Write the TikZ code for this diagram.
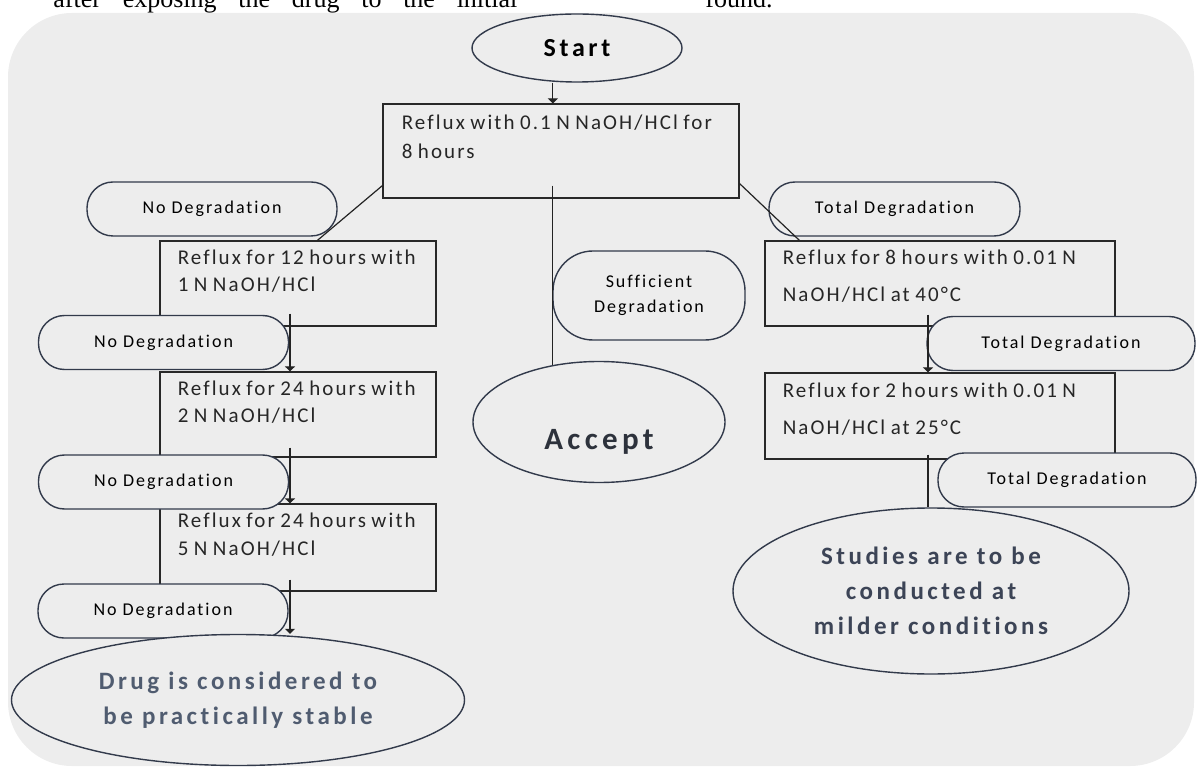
\documentclass[tikz,border=0pt]{standalone}
\usepackage{fontspec}
\setmainfont{Carlito}
\newfontfamily\lblfont[LetterSpace=11,Ligatures=NoCommon]{Carlito}
\newfontfamily\boxfont[LetterSpace=10,WordSpace=0.8,Ligatures=NoCommon]{Carlito}
\newfontfamily\endfont[LetterSpace=14,Ligatures=NoCommon]{Carlito}
\newfontfamily\pagefont{Liberation Serif}
\usetikzlibrary{positioning,arrows.meta,shapes.geometric}

\definecolor{bggray}{RGB}{237,237,237}
\definecolor{boxline}{RGB}{40,40,40}
\definecolor{ovline}{RGB}{50,58,75}
\definecolor{lnblack}{RGB}{35,35,35}
\definecolor{txtgray}{RGB}{38,38,38}
\definecolor{acctxt}{RGB}{45,50,60}
\definecolor{drugtxt}{RGB}{80,92,112}
\definecolor{studtxt}{RGB}{60,68,86}

\begin{document}
\begin{tikzpicture}[x=0.5pt, y=-0.5pt,
  box/.style={draw=boxline, fill=bggray, line width=0.6pt, inner sep=0pt},
  boxtxt/.style={anchor=base west, align=left, inner sep=0pt, text=txtgray,
                 font=\boxfont\fontsize{10.5}{#1}\selectfont},
  boxtxt/.default=14pt,
  tag/.style={draw=ovline, fill=bggray, line width=0.7pt, rounded corners=13pt,
              minimum width=#1, minimum height=27pt, inner sep=0pt,
              font=\lblfont\fontsize{9}{12.5}\selectfont},
  tag/.default=125pt,
  oval/.style={draw=ovline, fill=bggray, ellipse, line width=0.7pt, inner sep=0pt, align=center},
  bigtxt/.style={font=\endfont\bfseries\fontsize{12.5}{17.5}\selectfont},
  pagetxt/.style={anchor=base west, inner sep=0pt, font=\pagefont\fontsize{13}{15}\selectfont},
  ln/.style={draw=lnblack, line width=0.6pt},
  arr/.style={ln, -{Triangle[width=5pt,length=2.5pt]}}]
\useasboundingbox (0,0) rectangle (1197,769);
% grey panel and the cut line of page text above it
\fill[bggray, rounded corners=32pt] (8,13) rectangle (1194,766);
\node[pagetxt] (pageline) at (53,8) {\makebox[232pt][s]{after exposing the drug to the initial}};
\node[pagetxt] (pagefound) at (705,8) {found.};
% reflux steps (text anchored on its last line)
\node[box, minimum width=178pt, minimum height=47pt] (r01) at (561,151) {};
\node[boxtxt=14.5pt] (r01txt) at ([shift={(19,55)}]r01.north west) {Reflux with 0.1 N NaOH/HCl for\\8 hours};
\node[box, minimum width=138pt, minimum height=42.5pt] (r12) at (298,283.5) {};
\node[boxtxt=13.5pt] (r12txt) at ([shift={(18,51)}]r12.north west) {Reflux for 12 hours with\\1 N NaOH/HCl};
\node[box, minimum width=138pt, minimum height=42.5pt] (r24a) at (298,414.5) {};
\node[boxtxt=13.5pt] (r24atxt) at ([shift={(18,51)}]r24a.north west) {Reflux for 24 hours with\\2 N NaOH/HCl};
\node[box, minimum width=138pt, minimum height=43.5pt] (r24b) at (298,547.5) {};
\node[boxtxt=14pt] (r24btxt) at ([shift={(18,52)}]r24b.north west) {Reflux for 24 hours with\\5 N NaOH/HCl};
\node[box, minimum width=175pt, minimum height=42.5pt] (r8) at (940,283.5) {};
\node[boxtxt=18.5pt] (r8txt) at ([shift={(18,61)}]r8.north west) {Reflux for 8 hours with 0.01 N\\NaOH/HCl at 40°C};
\node[box, minimum width=175pt, minimum height=43pt] (r2) at (940,416) {};
\node[boxtxt=18.5pt] (r2txt) at ([shift={(18,62)}]r2.north west) {Reflux for 2 hours with 0.01 N\\NaOH/HCl at 25°C};
% outcome tags
\node[tag] (nd1) at (212,209) {No Degradation};
\node[tag] (nd2) at (163.5,342.5) {No Degradation};
\node[tag] (nd3) at (163.5,482) {No Degradation};
\node[tag] (nd4) at (163,611) {No Degradation};
\node[tag=125.5pt] (td1) at (894.5,209) {Total Degradation};
\node[tag=134pt] (td2) at (1061,343.5) {Total Degradation};
\node[tag=129pt] (td3) at (1067,480) {Total Degradation};
\node[tag, minimum width=96pt, minimum height=44.5pt, rounded corners=20pt, align=center] (suff) at (649,295.5) {Sufficient\\Degradation};
% start and end ovals
\node[oval, minimum width=105pt, minimum height=34pt, font=\endfont\bfseries\fontsize{13}{15}\selectfont] (start) at (577,48) {Start};
\node[oval, minimum width=126pt, minimum height=60.5pt, text=acctxt, text height=27pt, text depth=0pt,
      font=\endfont\bfseries\fontsize{15.5}{18}\selectfont] (accept) at (599,422) {Accept};
\node[oval, bigtxt, minimum width=226.5pt, minimum height=65.5pt, text=drugtxt] (drug) at (238,700) {Drug is considered to\\be practically stable};
\node[oval, bigtxt, minimum width=198pt, minimum height=83pt, text=studtxt] (studies) at (931,591) {Studies are to be\\conducted at\\milder conditions};
% connectors
\draw[arr] (start.south -| accept.129) -- (r01.north -| accept.129);
\draw[ln] ([yshift=6.5pt]r01.south -| accept.129) -- (accept.129);
\draw[ln] ([yshift=6.5pt]r01.south west) -- ([xshift=79pt]r12.north west);
\draw[ln] ([yshift=7.5pt]r01.south east) -- ([xshift=17.5pt]r8.north west);
\draw[arr] ([xshift=-4pt,yshift=6.5pt]r12.south) -- ([xshift=-4pt]r24a.north);
\draw[arr] ([xshift=-4pt,yshift=5pt]r24a.south) -- ([xshift=-4pt]r24b.north);
\draw[arr] ([xshift=-4pt,yshift=6pt]r24b.south) -- ([xshift=-4pt]r24b.south |- drug.north);
\draw[arr] ([xshift=-6pt,yshift=6pt]r8.south) -- ([xshift=-6pt]r2.north);
\draw[ln] ([xshift=-6pt,yshift=2.5pt]r2.south) -- ([xshift=-6pt]r2.south |- studies.north);
\end{tikzpicture}
\end{document}
